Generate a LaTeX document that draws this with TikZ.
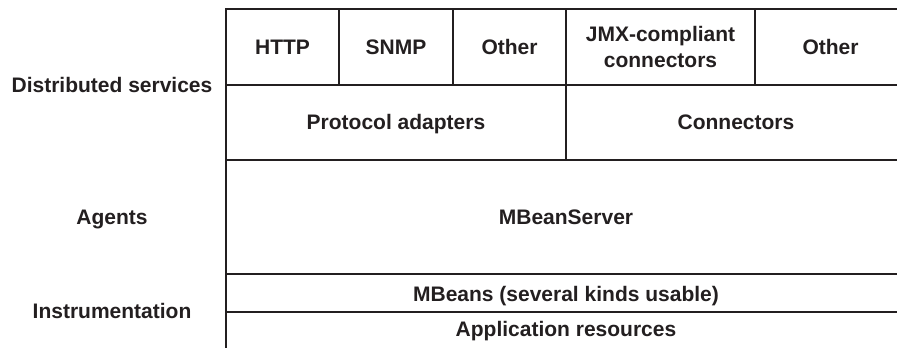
\documentclass[tikz,border=0pt]{standalone}
\usepackage{fontspec}
\setmainfont{Liberation Sans}
\usetikzlibrary{positioning}
\definecolor{inkdark}{HTML}{231F20}

\tikzset{
  layertext/.style={font=\bfseries\fontsize{21}{26}\selectfont, text=inkdark, align=center, inner sep=0pt},
  oneline/.style={layertext, text height=15pt, text depth=0pt},
  levellabel/.style={oneline},
  rule/.style={draw=inkdark, line width=1.5pt}
}

\begin{document}
\begin{tikzpicture}[x=1pt,y=-1pt]
  \useasboundingbox (0,0) rectangle (897,348);
  % outline of the stack
  \draw[rule] (897,9) -- (226,9) -- (226,348);
  \foreach \y in {85,160,274,312}
    \draw[rule] (226,\y) -- (897,\y);
  \foreach \x in {339,453,755}
    \draw[rule] (\x,9) -- (\x,85);
  \draw[rule] (566,9) -- (566,160);

  % top row
  \node[oneline] (http)  at (282.5,47) {HTTP};
  \node[oneline] (snmp)  at (396,47)   {SNMP};
  \node[oneline] (otherA) at (509.5,47) {Other};
  \node[layertext] (jmx)   at (660.5,47) {JMX-compliant\\connectors};
  \node[oneline] (otherB) at (830.5,47) {Other};

  % second row
  \node[oneline] (adapters)   at (396,121.5) {Protocol adapters};
  \node[oneline] (connectors) at (736,121.5) {Connectors};

  % lower layers
  \node[oneline] (server)    at (566,217) {MBeanServer};
  \node[oneline] (mbeans)    at (566,293.5) {MBeans (several kinds usable)};
  \node[oneline] (resources) at (566,328.5) {Application resources};

  % level names
  \node[levellabel] (distributed) at (112,84.5)  {Distributed services};
  \node[levellabel] (agents)      at (112,216.5) {Agents};
  \node[levellabel] (instr)       at (112,310.5) {Instrumentation};
\end{tikzpicture}
\end{document}
